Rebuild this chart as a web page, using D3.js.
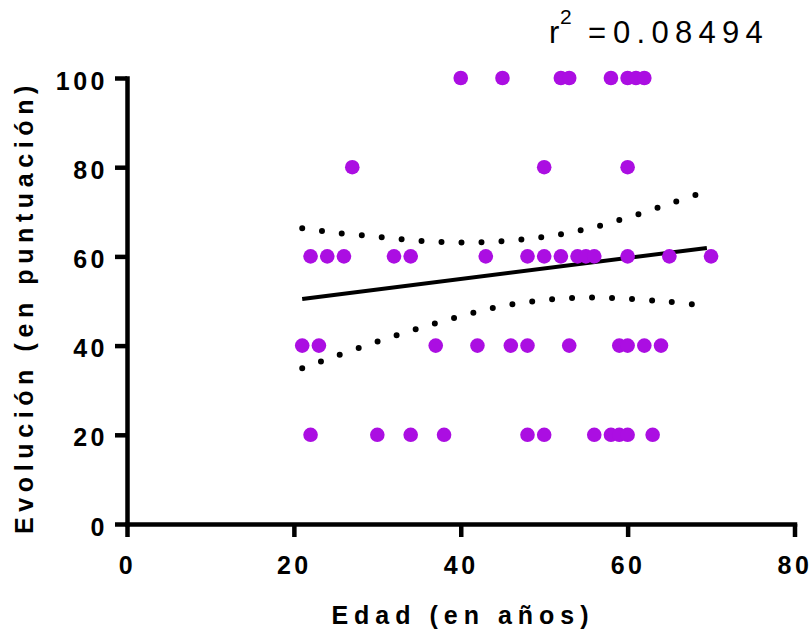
<!DOCTYPE html>
<html>
<head>
<meta charset="utf-8">
<script src="https://cdn.jsdelivr.net/npm/d3@7"></script>
<style>
  html, body { margin: 0; padding: 0; background: #fff; }
  svg { display: block; }
  text { font-family: "Liberation Sans", Arial, sans-serif; fill: #000; }
</style>
</head>
<body>
<svg id="chart" width="812" height="632"></svg>
<script>
// Age (years) of each patient, grouped by evolution score
const ages100 = [40, 45, 52, 53, 58, 60, 61, 62];
const ages80  = [27, 50, 60];
const ages60  = [22, 24, 26, 32, 34, 43, 48, 50, 52, 54, 55, 56, 60, 65, 70];
const ages40  = [21, 23, 37, 42, 46, 48, 53, 59, 60, 62, 64];
const ages20  = [22, 30, 34, 38, 48, 50, 56, 58, 59, 60, 63];
const scoreLevels = [100, 80, 60, 40, 20];

// Linear fit (end points) and its 95% confidence band
const fitAges   = [21, 69.5];
const fitScores = [50.45, 61.9];
const bandAges  = [21, 25, 30, 35, 40, 45, 50, 55, 60, 65, 69.5];
const bandUpper = [66.3, 65.3, 64.4, 63.5, 63.1, 63.4, 64.4, 66.1, 68.7, 71.8, 74.6];
const bandLower = [34.9, 37.6, 40.9, 43.9, 46.6, 48.9, 50.2, 50.8, 50.5, 49.8, 48.9];

const xTicks = [0, 20, 40, 60, 80];
const yTicks = [0, 20, 40, 60, 80, 100];
const rSquared = "0.08494";
const xTitle = "Edad (en años)";
const yTitle = "Evolución (en puntuación)";

const groups = [ages100, ages80, ages60, ages40, ages20];
const points = [];
groups.forEach((ages, i) => ages.forEach(a => points.push({ age: a, score: scoreLevels[i] })));

const svg = d3.select("#chart");
const x = d3.scaleLinear().domain([0, 80]).range([127, 794.5]);
const y = d3.scaleLinear().domain([0, 100]).range([524, 78]);

const AXIS_W = 4.5;

// Confidence band (dotted)
const bandLine = d3.line().curve(d3.curveCatmullRom)
  .x(d => x(d[0])).y(d => y(d[1]));
[bandUpper, bandLower].forEach(vals => {
  svg.append("path")
    .datum(bandAges.map((a, i) => [a, vals[i]]))
    .attr("d", bandLine)
    .attr("fill", "none")
    .attr("stroke", "#000")
    .attr("stroke-width", 6)
    .attr("stroke-linecap", "round")
    .attr("stroke-dasharray", "0 20");
});

// Regression line
svg.append("path")
  .datum(fitAges.map((a, i) => [a, fitScores[i]]))
  .attr("d", d3.line().x(d => x(d[0])).y(d => y(d[1])))
  .attr("fill", "none")
  .attr("stroke", "#000")
  .attr("stroke-width", 4);

// Data points
svg.append("g").selectAll("circle")
  .data(points)
  .join("circle")
  .attr("cx", d => x(d.age))
  .attr("cy", d => y(d.score))
  .attr("r", 7.3)
  .attr("fill", "#ab0ee2");

// Axes
const xAxis = svg.append("g")
  .attr("transform", `translate(0,${y(0)})`)
  .call(d3.axisBottom(x).tickValues(xTicks).tickSize(13).tickSizeOuter(0).tickPadding(20));
const yAxis = svg.append("g")
  .attr("transform", `translate(${x(0)},0)`)
  .call(d3.axisLeft(y).tickValues(yTicks).tickSize(12).tickSizeOuter(0).tickPadding(7));

[xAxis, yAxis].forEach(g => {
  g.select(".domain").attr("stroke", "#000").attr("stroke-width", AXIS_W).attr("stroke-linecap", "square");
  g.selectAll(".tick line").attr("stroke", "#000").attr("stroke-width", AXIS_W);
  g.selectAll(".tick text")
    .attr("fill", "#000")
    .style("font-family", '"Liberation Sans", Arial, sans-serif')
    .style("font-size", "25px")
    .style("font-weight", "bold")
    .style("letter-spacing", "3.5px");
});
xAxis.selectAll(".tick text").attr("dy", "0.68em");
yAxis.selectAll(".tick text").attr("dy", "0.44em");

// Axis titles
svg.append("text")
  .attr("x", 463).attr("y", 624)
  .attr("text-anchor", "middle")
  .style("font-size", "25px").style("font-weight", "bold").style("letter-spacing", "6px")
  .text(xTitle);

svg.append("text")
  .attr("transform", "translate(33,307) rotate(-90)")
  .attr("text-anchor", "middle")
  .style("font-size", "25px").style("font-weight", "bold").style("letter-spacing", "5.6px")
  .text(yTitle);

// Goodness of fit
const r2 = svg.append("text").style("font-size", "31px");
r2.append("tspan").attr("x", 549).attr("y", 43).text("r");
r2.append("tspan").attr("x", 560).attr("y", 24).style("font-size", "21px").text("2");
r2.append("tspan").attr("x", 588).attr("y", 43).text("=");
r2.append("tspan").attr("x", 613).attr("y", 43).style("letter-spacing", "6.3px").text(rSquared);
</script>
</body>
</html>
